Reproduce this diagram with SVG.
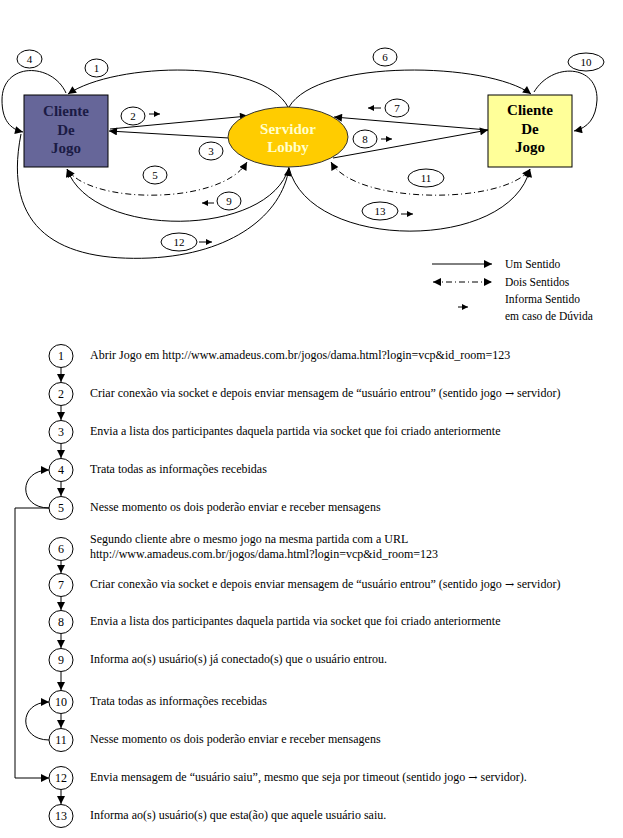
<svg xmlns="http://www.w3.org/2000/svg" width="623" height="838" viewBox="0 0 623 838">
<style>
  .ln{fill:none;stroke:#000;stroke-width:1}
  .dd{fill:none;stroke:#000;stroke-width:1;stroke-dasharray:6 3 1 3}
  .lbl{fill:#fff;stroke:#000;stroke-width:1}
  .num{font-family:"Liberation Serif","Times New Roman",serif;font-size:11px;fill:#000;text-anchor:middle}
  .lnum{font-family:"Liberation Serif","Times New Roman",serif;font-size:12px;fill:#000;text-anchor:middle}
  .txt{font-family:"Liberation Serif","Times New Roman",serif;font-size:12px;fill:#000}
  .ar{font-family:"DejaVu Serif","DejaVu Sans",serif;font-size:11px}
  .leg{font-family:"Liberation Serif","Times New Roman",serif;font-size:11.5px;fill:#000}
  .node{font-family:"Liberation Serif","Times New Roman",serif;font-size:15px;font-weight:bold;text-anchor:middle}
</style>
<defs>
  <marker id="a" viewBox="0 0 10 10" refX="10" refY="5" markerWidth="9" markerHeight="8" markerUnits="userSpaceOnUse" orient="auto-start-reverse">
    <path d="M0,0 L10,5 L0,10 z" fill="#000"/>
  </marker>
  <marker id="s" viewBox="0 0 10 10" refX="10" refY="5" markerWidth="7" markerHeight="6" markerUnits="userSpaceOnUse" orient="auto">
    <path d="M0,0 L10,5 L0,10 z" fill="#000"/>
  </marker>
</defs>
<rect width="623" height="838" fill="#fff"/>

<g id="connectors">
  <path class="ln" d="M288,107 C262,58 115,62 68,94" marker-end="url(#a)"/>
  <path class="ln" d="M66,93 C52,62 2,62 2,100 C2,120 10,129 23,132" marker-end="url(#a)"/>
  <path class="ln" d="M110,129 L248,116" marker-end="url(#a)"/>
  <path class="ln" d="M229,138 L109,131" marker-end="url(#a)"/>
  <path class="dd" d="M67,169 C90,205 222,205 247,162" marker-start="url(#a)" marker-end="url(#a)"/>
  <path class="ln" d="M289,167 C270,238 92,240 67,169" marker-end="url(#a)"/>
  <path class="ln" d="M21,134 C2,230 60,262 150,258 C232,254 282,215 289,168" marker-end="url(#a)"/>
  <path class="ln" d="M289,107 C318,58 488,62 531,94" marker-end="url(#a)"/>
  <path class="ln" d="M534,92 C552,62 598,64 597,100 C596,118 588,128 574,131" marker-end="url(#a)"/>
  <path class="ln" d="M488,130 L334,117" marker-end="url(#a)"/>
  <path class="ln" d="M333,158 L488,130" marker-end="url(#a)"/>
  <path class="dd" d="M331,162 C355,205 505,205 530,169" marker-start="url(#a)" marker-end="url(#a)"/>
  <path class="ln" d="M289,168 C310,252 510,252 530,169" marker-end="url(#a)"/>
  <path class="ln" d="M149,114 L160,114" marker-end="url(#s)"/>
  <path class="ln" d="M214,203 L202,203" marker-end="url(#s)"/>
  <path class="ln" d="M199,242 L212,242" marker-end="url(#s)"/>
  <path class="ln" d="M381,108 L368,108" marker-end="url(#s)"/>
  <path class="ln" d="M381,139 L392,139" marker-end="url(#s)"/>
  <path class="ln" d="M401,214 L413,214" marker-end="url(#s)"/>
</g>

<g id="cliente1">
  <rect x="24" y="95" width="84" height="72" fill="#666699" stroke="#000" stroke-width="1"/>
  <text class="node" x="66" y="116" fill="#1b1b45">Cliente</text>
  <text class="node" x="66" y="135" fill="#1b1b45">De</text>
  <text class="node" x="66" y="153" fill="#1b1b45">Jogo</text>
</g>
<g id="servidor">
  <ellipse cx="288" cy="137" rx="60" ry="30" fill="#FFCC00" stroke="#333" stroke-width="1"/>
  <text class="node" x="288" y="134" fill="#FFFFCC">Servidor</text>
  <text class="node" x="288" y="152" fill="#FFFFCC">Lobby</text>
</g>
<g id="cliente2">
  <rect x="488" y="95" width="84" height="72" fill="#FFFF99" stroke="#000" stroke-width="1"/>
  <text class="node" x="530" y="115" fill="#000">Cliente</text>
  <text class="node" x="530" y="134" fill="#000">De</text>
  <text class="node" x="530" y="152" fill="#000">Jogo</text>
</g>

<g id="labels">
  <g id="l4"><ellipse class="lbl" cx="29.5" cy="59" rx="12.5" ry="9"/><text class="num" x="29.5" y="63">4</text></g>
  <g id="l1"><ellipse class="lbl" cx="96.5" cy="68" rx="11.5" ry="9"/><text class="num" x="96.5" y="72">1</text></g>
  <g id="l2"><ellipse class="lbl" cx="133" cy="116" rx="12" ry="9"/><text class="num" x="133" y="120">2</text></g>
  <g id="l3"><ellipse class="lbl" cx="211" cy="151" rx="12" ry="9"/><text class="num" x="211" y="155">3</text></g>
  <g id="l5"><ellipse class="lbl" cx="155" cy="175" rx="12" ry="9"/><text class="num" x="155" y="179">5</text></g>
  <g id="l9"><ellipse class="lbl" cx="229" cy="201" rx="12" ry="9"/><text class="num" x="229" y="205">9</text></g>
  <g id="l12"><ellipse class="lbl" cx="179" cy="242" rx="18" ry="9"/><text class="num" x="179" y="246">12</text></g>
  <g id="l6"><ellipse class="lbl" cx="385" cy="57" rx="12" ry="9"/><text class="num" x="385" y="61">6</text></g>
  <g id="l10"><ellipse class="lbl" cx="586" cy="62" rx="18" ry="9"/><text class="num" x="586" y="66">10</text></g>
  <g id="l7"><ellipse class="lbl" cx="397" cy="108" rx="12" ry="9"/><text class="num" x="397" y="112">7</text></g>
  <g id="l8"><ellipse class="lbl" cx="365" cy="139" rx="12" ry="9"/><text class="num" x="365" y="143">8</text></g>
  <g id="l11"><ellipse class="lbl" cx="426" cy="178" rx="18" ry="9"/><text class="num" x="426" y="182">11</text></g>
  <g id="l13"><ellipse class="lbl" cx="380" cy="211" rx="18" ry="9"/><text class="num" x="380" y="215">13</text></g>
</g>

<g id="legend">
  <path class="ln" d="M432,264 L492,264" marker-end="url(#a)"/>
  <path class="dd" d="M433,282 L492,282" marker-start="url(#a)" marker-end="url(#a)"/>
  <path class="ln" d="M458,307 L468,307" marker-end="url(#s)"/>
  <text class="leg" x="505" y="268">Um Sentido</text>
  <text class="leg" x="505" y="286">Dois Sentidos</text>
  <text class="leg" x="505" y="303">Informa Sentido</text>
  <text class="leg" x="505" y="320">em caso de Dúvida</text>
</g>

<g id="steps-connectors">
  <path class="ln" d="M61,368 L61,382" marker-end="url(#a)"/>
  <path class="ln" d="M61,406 L61,420" marker-end="url(#a)"/>
  <path class="ln" d="M61,444 L61,458" marker-end="url(#a)"/>
  <path class="ln" d="M61,482 L61,496" marker-end="url(#a)"/>
  <path class="ln" d="M49,508 C18,508 18,470 49,470" marker-end="url(#a)"/>
  <path class="ln" d="M49,508 L15,508 L15,778 L49,778" marker-end="url(#a)"/>
  <path class="ln" d="M61,561 L61,573" marker-end="url(#a)"/>
  <path class="ln" d="M61,597 L61,610" marker-end="url(#a)"/>
  <path class="ln" d="M61,634 L61,648" marker-end="url(#a)"/>
  <path class="ln" d="M61,672 L61,690" marker-end="url(#a)"/>
  <path class="ln" d="M61,714 L61,728" marker-end="url(#a)"/>
  <path class="ln" d="M49,740 C18,740 18,702 49,702" marker-end="url(#a)"/>
  <path class="ln" d="M61,790 L61,804" marker-end="url(#a)"/>
</g>

<g id="step1"><ellipse class="lbl" cx="61" cy="356" rx="12" ry="11.5"/><text class="lnum" x="61" y="360">1</text><text class="txt" x="90" y="359">Abrir Jogo em http://www.amadeus.com.br/jogos/dama.html?login=vcp&amp;id_room=123</text></g>
<g id="step2"><ellipse class="lbl" cx="61" cy="394" rx="12" ry="11.5"/><text class="lnum" x="61" y="398">2</text><text class="txt" x="90" y="397">Criar conexão via socket e depois enviar mensagem de “usuário entrou” (sentido jogo <tspan class="ar">→</tspan> servidor)</text></g>
<g id="step3"><ellipse class="lbl" cx="61" cy="432" rx="12" ry="11.5"/><text class="lnum" x="61" y="436">3</text><text class="txt" x="90" y="435">Envia a lista dos participantes daquela partida via socket que foi criado anteriormente</text></g>
<g id="step4"><ellipse class="lbl" cx="61" cy="470" rx="12" ry="11.5"/><text class="lnum" x="61" y="474">4</text><text class="txt" x="90" y="473">Trata todas as informações recebidas</text></g>
<g id="step5"><ellipse class="lbl" cx="61" cy="508" rx="12" ry="11.5"/><text class="lnum" x="61" y="512">5</text><text class="txt" x="90" y="511">Nesse momento os dois poderão enviar e receber mensagens</text></g>
<g id="step6"><ellipse class="lbl" cx="61" cy="549" rx="12" ry="11.5"/><text class="lnum" x="61" y="553">6</text><text class="txt" x="90" y="543">Segundo cliente abre o mesmo jogo na mesma partida com a URL</text><text class="txt" x="90" y="558">http://www.amadeus.com.br/jogos/dama.html?login=vcp&amp;id_room=123</text></g>
<g id="step7"><ellipse class="lbl" cx="61" cy="585" rx="12" ry="11.5"/><text class="lnum" x="61" y="589">7</text><text class="txt" x="90" y="588">Criar conexão via socket e depois enviar mensagem de “usuário entrou” (sentido jogo <tspan class="ar">→</tspan> servidor)</text></g>
<g id="step8"><ellipse class="lbl" cx="61" cy="622" rx="12" ry="11.5"/><text class="lnum" x="61" y="626">8</text><text class="txt" x="90" y="625">Envia a lista dos participantes daquela partida via socket que foi criado anteriormente</text></g>
<g id="step9"><ellipse class="lbl" cx="61" cy="660" rx="12" ry="11.5"/><text class="lnum" x="61" y="664">9</text><text class="txt" x="90" y="663">Informa ao(s) usuário(s) já conectado(s) que o usuário entrou.</text></g>
<g id="step10"><ellipse class="lbl" cx="61" cy="702" rx="12" ry="11.5"/><text class="lnum" x="61" y="706">10</text><text class="txt" x="90" y="705">Trata todas as informações recebidas</text></g>
<g id="step11"><ellipse class="lbl" cx="61" cy="740" rx="12" ry="11.5"/><text class="lnum" x="61" y="744">11</text><text class="txt" x="90" y="743">Nesse momento os dois poderão enviar e receber mensagens</text></g>
<g id="step12"><ellipse class="lbl" cx="61" cy="778" rx="12" ry="11.5"/><text class="lnum" x="61" y="782">12</text><text class="txt" x="90" y="781">Envia mensagem de “usuário saiu”, mesmo que seja por timeout (sentido jogo <tspan class="ar">→</tspan> servidor).</text></g>
<g id="step13"><ellipse class="lbl" cx="61" cy="816" rx="12" ry="11.5"/><text class="lnum" x="61" y="820">13</text><text class="txt" x="90" y="819">Informa ao(s) usuário(s) que esta(ão) que aquele usuário saiu.</text></g>
</svg>
